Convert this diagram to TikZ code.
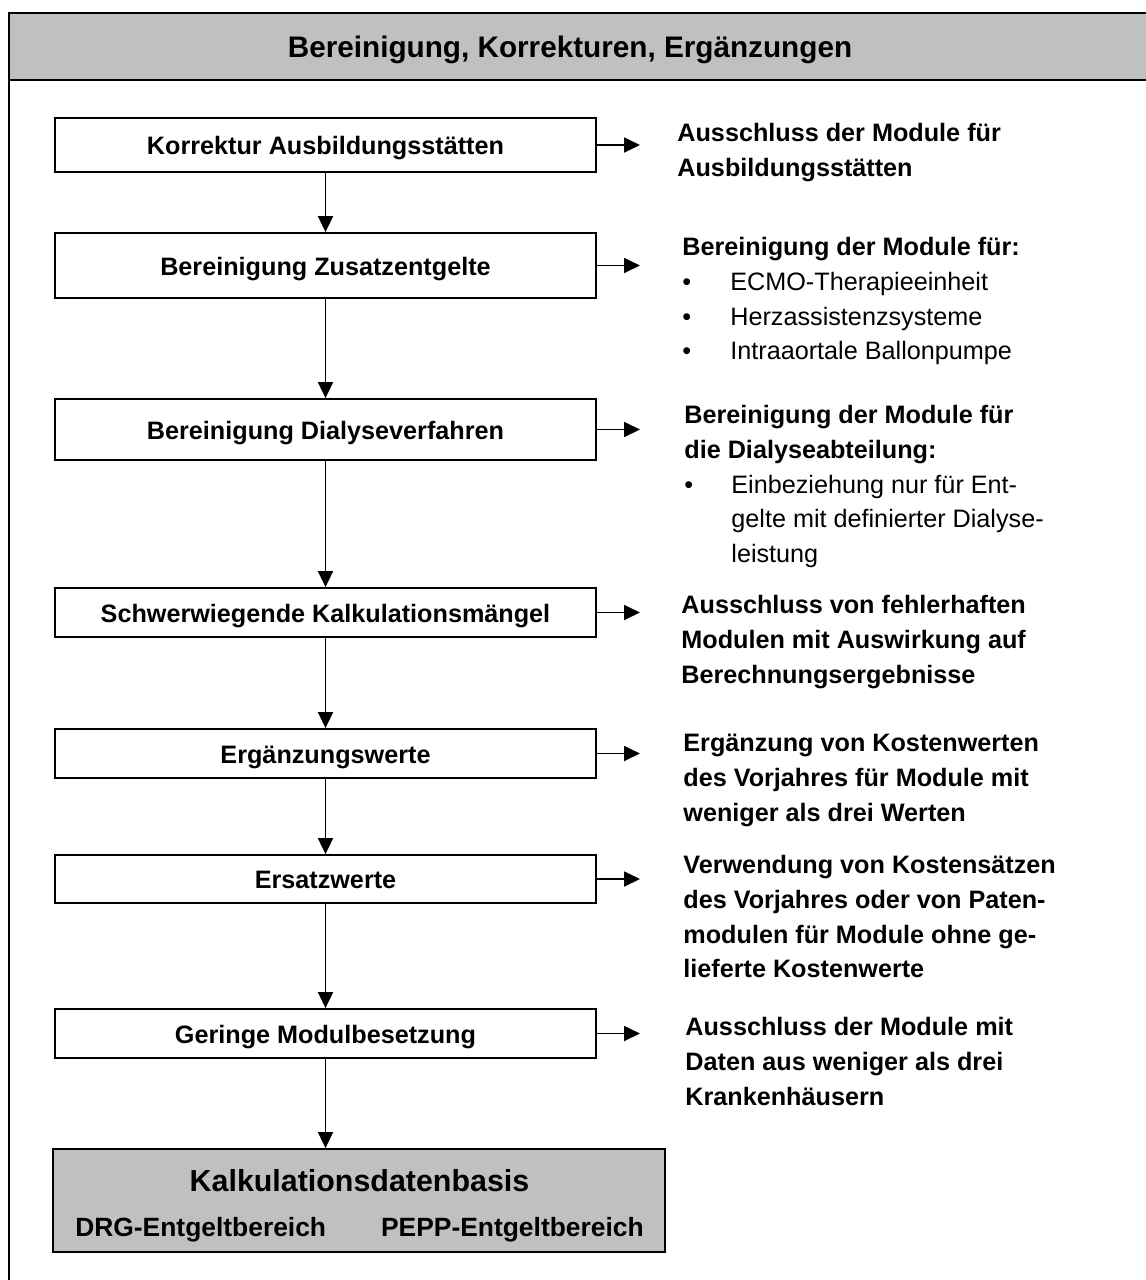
\documentclass[tikz,border=0pt]{standalone}
\usepackage{fontspec}
\setmainfont{Liberation Sans}
\usetikzlibrary{arrows.meta}
\definecolor{hdrgray}{RGB}{192,192,192}
\begin{document}
\begin{tikzpicture}[x=0.5pt,y=-0.5pt,
  stepbox/.style={draw, line width=0.9pt, minimum width=270.5pt, inner sep=0pt,
    text height=9.6pt, text depth=0pt,
    font=\bfseries\fontsize{12.6}{15}\selectfont},
  flow/.style={-{Triangle[length=8pt,width=7.5pt]}, line width=0.9pt},
  note/.style={anchor=base west, inner sep=0pt, font=\fontsize{12.6}{17.4}\selectfont},
]
\clip (0,0) rectangle (1146,1280);
% frame and header
\draw[line width=1pt] (9,13) -- (9,1300);
\filldraw[fill=hdrgray, line width=1.4pt] (9,13) rectangle (1170,80);
\node[anchor=base, inner sep=0pt, font=\bfseries\fontsize{14.85}{18}\selectfont] (title) at (570,57) {Bereinigung, Korrekturen, Ergänzungen};

% process boxes
\node[stepbox, minimum height=27pt]   (b1) at (325.5,145) {Korrektur Ausbildungsstätten};
\node[stepbox, minimum height=32.5pt] (b2) at (325.5,265.5) {Bereinigung Zusatzentgelte};
\node[stepbox, minimum height=30.5pt] (b3) at (325.5,429.5) {Bereinigung Dialyseverfahren};
\node[stepbox, minimum height=24.5pt] (b4) at (325.5,612.5) {Schwerwiegende Kalkulationsmängel};
\node[stepbox, minimum height=24.5pt] (b5) at (325.5,753.5) {Ergänzungswerte};
\node[stepbox, minimum height=24pt]   (b6) at (325.5,879) {Ersatzwerte};
\node[stepbox, minimum height=24.5pt] (b7) at (325.5,1033.5) {Geringe Modulbesetzung};
\node[draw, fill=hdrgray, line width=0.9pt, minimum width=306pt, minimum height=51.5pt, inner sep=0pt] (b8) at (359,1200.5) {};
\node[anchor=base, inner sep=0pt, font=\bfseries\fontsize{15.2}{18}\selectfont] (kdb) at (359.5,1191) {Kalkulationsdatenbasis};
\node[anchor=base, inner sep=0pt, font=\bfseries\fontsize{13.2}{16}\selectfont] (kdbs) at (359.5,1236.5) {DRG-Entgeltbereich\hspace{27.5pt}PEPP-Entgeltbereich};

% vertical connectors
\draw[flow] (b1) -- (b2);
\draw[flow] (b2) -- (b3);
\draw[flow] (b3) -- (b4);
\draw[flow] (b4) -- (b5);
\draw[flow] (b5) -- (b6);
\draw[flow] (b6) -- (b7);
\draw[flow] (b7.south) -- (b7.south |- b8.north);

% side arrows
\coordinate (tipx) at (640,0);
\foreach \b in {b1,b2,b3,b4,b5,b6,b7} {
  \draw[flow] (\b.east) -- (\b.east -| tipx);
}

% side notes
\node[note] (n1) at (677,141.5) {\begin{tabular}[t]{@{}l@{}}\textbf{Ausschluss der Module für}\\ \textbf{Ausbildungsstätten}\end{tabular}};
\node[note] (n2) at (682,255.5) {\begin{tabular}[t]{@{}l@{}}\textbf{Bereinigung der Module für:}\\
\makebox[24pt][l]{•}ECMO-Therapieeinheit\\
\makebox[24pt][l]{•}Herzassistenzsysteme\\
\makebox[24pt][l]{•}Intraaortale Ballonpumpe\end{tabular}};
\node[note] (n3) at (684,423.5) {\begin{tabular}[t]{@{}l@{}}\textbf{Bereinigung der Module für}\\
\textbf{die Dialyseabteilung:}\\
\makebox[23.5pt][l]{•}Einbeziehung nur für Ent-\\
\hspace*{23.5pt}gelte mit definierter Dialyse-\\
\hspace*{23.5pt}leistung\end{tabular}};
\node[note] (n4) at (681,613.5) {\begin{tabular}[t]{@{}l@{}}\textbf{Ausschluss von fehlerhaften}\\
\textbf{Modulen mit Auswirkung auf}\\
\textbf{Berechnungsergebnisse}\end{tabular}};
\node[note] (n5) at (683,751.5) {\begin{tabular}[t]{@{}l@{}}\textbf{Ergänzung von Kostenwerten}\\
\textbf{des Vorjahres für Module mit}\\
\textbf{weniger als drei Werten}\end{tabular}};
\node[note] (n6) at (683,873.5) {\begin{tabular}[t]{@{}l@{}}\textbf{Verwendung von Kostensätzen}\\
\textbf{des Vorjahres oder von Paten-}\\
\textbf{modulen für Module ohne ge-}\\
\textbf{lieferte Kostenwerte}\end{tabular}};
\node[note] (n7) at (685,1035.5) {\begin{tabular}[t]{@{}l@{}}\textbf{Ausschluss der Module mit}\\
\textbf{Daten aus weniger als drei}\\
\textbf{Krankenhäusern}\end{tabular}};
\end{tikzpicture}
\end{document}
